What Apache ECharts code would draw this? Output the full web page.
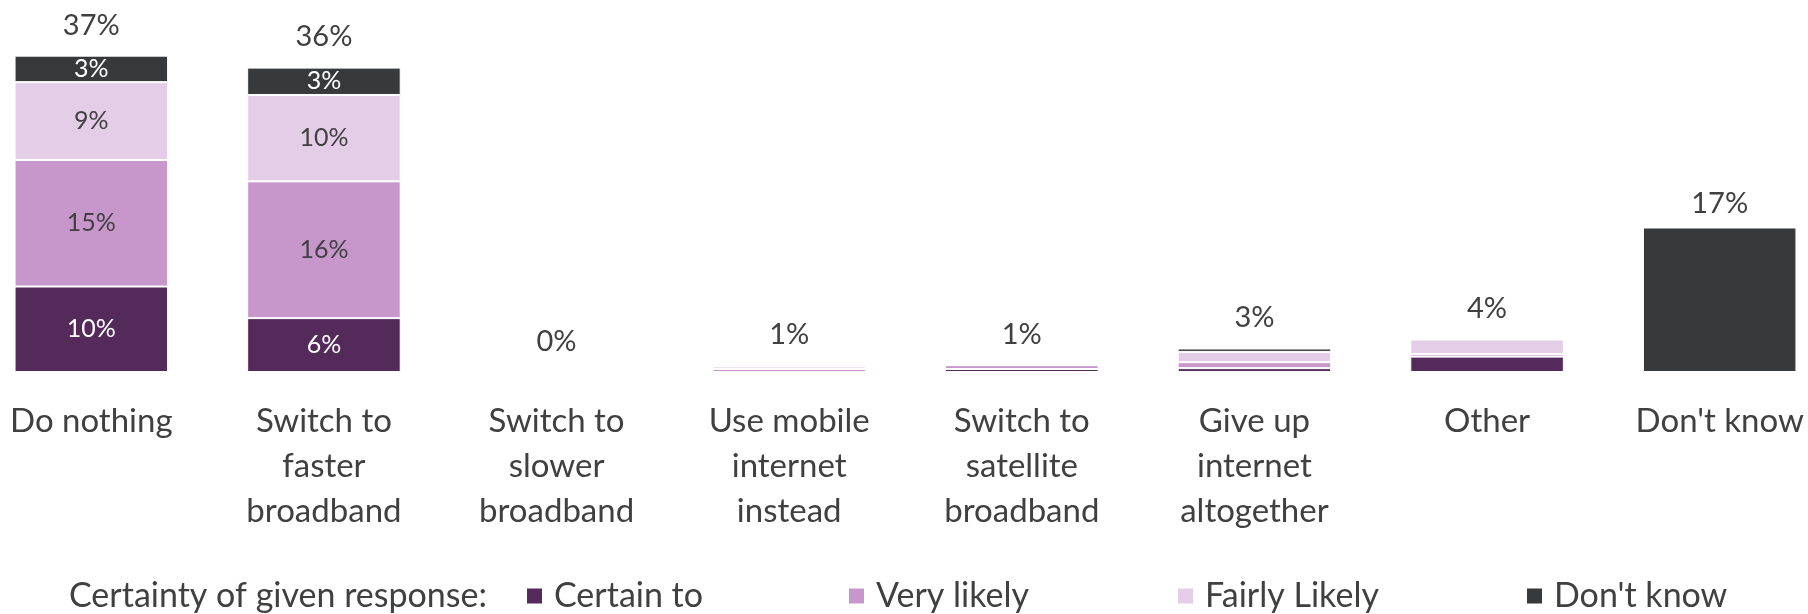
<!DOCTYPE html>
<html>
<head>
<meta charset="utf-8">
<title>Likely response</title>
<script src="https://cdn.jsdelivr.net/npm/echarts@6/dist/echarts.min.js"></script>
<style>
  html, body { margin: 0; padding: 0; background: #ffffff; }
  #chart { width: 1808px; height: 614px; }
</style>
</head>
<body>
<div id="chart"></div>
<script>
// Response categories (tick labels, wrapped as displayed)
const categories = [
  'Do nothing',
  'Switch to\nfaster\nbroadband',
  'Switch to\nslower\nbroadband',
  'Use mobile\ninternet\ninstead',
  'Switch to\nsatellite\nbroadband',
  'Give up\ninternet\naltogether',
  'Other',
  "Don't know"
];

// Share of respondents (%) by certainty of the given response
const certainTo    = [10.0,  6.3, 0, 0,    0.35, 0.45, 1.8, 0];
const veryLikely   = [14.8, 16.0, 0, 0.35, 0.45, 0.7,  0.3, 0];
const fairlyLikely = [ 9.1, 10.1, 0, 0.3,  0,    1.2,  1.7, 0];
const dontKnow     = [ 3.1,  3.2, 0, 0.15, 0,    0.4,  0,   16.9];

const seriesNames = ['Certain to', 'Very likely', 'Fairly Likely', "Don't know"];
const legendTitle = 'Certainty of given response:';

// Categories whose segments carry their own value labels
const labelledCategories = ['Do nothing', 'Switch to\nfaster\nbroadband'];

const colors = ['#532A5A', '#C797CC', '#E4CDE7', '#38393B'];
const insideLabelColors = ['#ffffff', '#404040', '#404040', '#ffffff'];
const textColor = '#404040';
const font = 'Lato';

const seriesValues = [certainTo, veryLikely, fairlyLikely, dontKnow];
const totals = categories.map((_, i) =>
  seriesValues.reduce((s, arr) => s + arr[i], 0));

const pct = v => Math.round(v) + '%';

const stackSeries = seriesNames.map((name, k) => ({
  name: name,
  type: 'bar',
  stack: 'total',
  barWidth: '66%',
  data: seriesValues[k],
  itemStyle: { color: colors[k], borderColor: '#ffffff', borderWidth: 1 },
  emphasis: { disabled: true },
  label: {
    show: true,
    position: 'inside',
    fontFamily: font,
    fontSize: 25,
    color: insideLabelColors[k],
    formatter: p => labelledCategories.indexOf(p.name) >= 0 ? pct(p.value) : ''
  }
}));

// Zero-height cap on each stack that carries the total label
const totalSeries = {
  name: 'total',
  type: 'bar',
  stack: 'total',
  silent: true,
  data: categories.map(c => ({
    value: 0,
    label: { distance: c === "Don't know" ? 9 : 16 }
  })),
  itemStyle: { color: 'rgba(0,0,0,0)', borderWidth: 0 },
  label: {
    show: true,
    position: 'top',
    fontFamily: font,
    fontSize: 29,
    color: textColor,
    formatter: p => pct(totals[p.dataIndex])
  }
};

const legendLeft = [525, 847, 1176, 1525];

const option = {
  backgroundColor: '#ffffff',
  animation: false,
  title: {
    text: legendTitle,
    left: 69,
    top: 576,
    padding: 0,
    textStyle: { fontFamily: font, fontSize: 34, fontWeight: 'normal', color: textColor, lineHeight: 40 }
  },
  legend: seriesNames.map((name, i) => ({
    data: [name],
    left: legendLeft[i],
    top: 576,
    padding: 0,
    icon: 'rect',
    itemWidth: 17,
    itemHeight: 17,
    selectedMode: false,
    textStyle: { fontFamily: font, fontSize: 34, color: textColor, lineHeight: 40, padding: [0, 0, 0, 6] }
  })),
  grid: {
    left: -25, right: -28, top: 30, bottom: 242,
    containLabel: false,
    outerBoundsMode: 'none'
  },
  xAxis: {
    type: 'category',
    data: categories,
    axisLine: { show: false },
    axisTick: { show: false },
    axisLabel: {
      interval: 0,
      margin: 27,
      fontFamily: font,
      fontSize: 33,
      lineHeight: 45,
      color: textColor
    }
  },
  yAxis: {
    type: 'value',
    min: 0,
    max: 40,
    show: false,
    splitLine: { show: false }
  },
  series: stackSeries.concat([totalSeries])
};

const chart = echarts.init(document.getElementById('chart'), null, { renderer: 'canvas' });
chart.setOption(option);
</script>
</body>
</html>
